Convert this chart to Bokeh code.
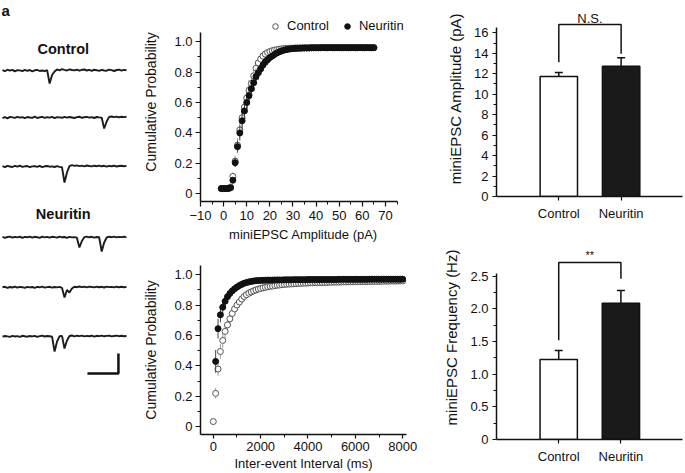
from bokeh.plotting import figure
from bokeh.layouts import row, column
from bokeh.models import (FixedTicker, Legend, LegendItem, Label, Whisker, TeeHead,
                          ColumnDataSource, Range1d)
from bokeh.embed import file_html
from bokeh.resources import INLINE

FONT = "Liberation Sans"
INK = "#111111"

# ---------------- data ----------------
# panel a: example traces (pA), sampled every 20 ms over 1 s
SAMPLE_MS = 20
ctrl_trace_1 = [0.4, -0.7, 0.8, -0.2, 0.6, -0.9, 0.3, 0.1, -0.6, 0.7,
                -0.3, 0.5, -0.8, 0.2, 0.6, -0.5, 0.0, -0.7, 0.3, -13.0,
                -4.5, -1.0, 1.1, 0.2, 1.3, 0.6, 0.0, 1.2, 0.5, 0.1,
                0.9, -0.2, 0.7, 1.0, 0.0, 0.6, -0.3, 0.8, 0.3, -0.4,
                0.7, 0.0, -0.2, 0.9, 0.4, -0.5, 0.5, 0.8, -0.1, 0.6,
                0.3]
ctrl_trace_2 = [-0.5, 0.3, -0.8, 0.6, 0.1, -0.4, 0.7, -0.2, 0.4, -0.6,
                0.5, 0.0, -0.3, 0.8, -0.5, 0.2, 0.6, -0.4, 0.3, -0.1,
                0.7, -0.6, 0.4, 0.1, -0.3, 0.6, -0.2, 0.5, 0.0, -0.5,
                0.4, 0.8, -0.3, 0.2, 0.6, -0.1, 0.3, -0.5, 0.5, 0.1,
                -0.2, -11.0, -4.0, 0.6, 1.0, 0.3, 0.9, 0.2, 0.7, 0.4,
                0.8]
ctrl_trace_3 = [0.3, -0.6, 0.7, 0.0, -0.5, 0.6, -0.2, 0.8, -0.4, 0.2,
                0.5, -0.7, 0.1, 0.4, -0.3, 0.6, -0.6, 0.2, 0.5, -0.2,
                0.1, -0.5, 0.3, -0.4, -0.8, -16.0, -6.0, 0.4, 1.3, 0.6,
                1.1, 0.4, 0.9, 0.2, 1.0, 0.5, 0.1, 0.8, 0.3, 0.9,
                0.2, 0.7, -0.1, 0.6, 0.3, 0.8, 0.0, 0.5, 0.7, 0.2,
                0.6]
neu_trace_1 = [0.6, -0.3, 0.5, 0.9, -0.2, 0.7, 0.1, 0.8, -0.4, 0.6,
               0.2, 0.9, -0.1, 0.7, 0.3, -0.3, 0.8, 0.1, 0.6, -0.2,
               0.7, 0.4, -0.1, 0.8, 0.2, 0.5, -0.3, 0.6, 0.1, 0.4,
               -0.2, -10.0, -3.5, 0.3, 0.9, 0.2, 0.7, -0.1, 0.5, 0.2,
               -14.0, -5.0, 0.0, 0.8, 0.3, 0.9, 0.1, 0.6, 0.4, 0.8,
               0.2]
neu_trace_2 = [0.2, 0.7, -0.3, 0.5, 0.0, 0.8, -0.2, 0.6, 0.3, -0.4,
               0.7, 0.1, 0.5, -0.3, 0.6, 0.2, 0.9, -0.1, 0.4, 0.7,
               -0.2, 0.5, 0.1, 0.6, -0.4, -10.0, -2.5, -5.0, -1.0, 0.8,
               0.3, 1.0, 0.4, 0.8, 0.1, 0.9, 0.5, 0.2, 0.8, 0.3,
               0.7, 0.0, 0.9, 0.4, 0.6, 0.1, 0.8, 0.3, 0.7, 0.2,
               0.6]
neu_trace_3 = [-0.2, 0.5, 0.1, -0.4, 0.6, 0.0, 0.4, -0.3, 0.7, 0.2,
               -0.2, 0.5, 0.1, 0.6, -0.3, 0.4, 0.8, 0.0, 0.5, 0.2,
               -0.3, -15.0, -5.0, 0.2, 0.6, -12.0, -4.0, 0.5, 1.0, 0.2,
               0.8, 0.4, 0.9, 0.1, 0.6, 0.3, 0.8, -0.1, 0.7, 0.4,
               0.9, 0.2, 0.6, 0.8, 0.1, 0.5, 0.9, 0.3, 0.7, 0.2,
               0.5]
scale_bar_ms = 250
scale_bar_pa = 20

# panel b (top): cumulative probability vs miniEPSC amplitude (pA)
amp_bins = list(range(-1, 66))
amp_ctrl = [0.035, 0.035, 0.035, 0.035, 0.045,
            0.115, 0.215, 0.32, 0.42, 0.50, 0.57, 0.63, 0.68, 0.725, 0.775,
            0.825, 0.86, 0.885, 0.905, 0.918, 0.928, 0.935, 0.94, 0.944, 0.947,
            0.95, 0.952, 0.954, 0.955, 0.956, 0.957, 0.957, 0.958, 0.958, 0.958,
            0.959, 0.959, 0.959, 0.959, 0.96, 0.96, 0.96, 0.96, 0.96, 0.96,
            0.96, 0.96, 0.96, 0.96, 0.96, 0.96, 0.96, 0.96, 0.96, 0.96,
            0.96, 0.96, 0.96, 0.96, 0.96, 0.96, 0.96, 0.96, 0.96, 0.96,
            0.96, 0.96]
amp_ctrl_err = [0.004, 0.004, 0.004, 0.004, 0.004,
                0.025, 0.035, 0.045, 0.055, 0.065, 0.07, 0.07, 0.068, 0.064, 0.058,
                0.05, 0.043, 0.036, 0.03, 0.025, 0.021, 0.018, 0.015, 0.013, 0.011,
                0.01, 0.009, 0.008, 0.007, 0.007, 0.006, 0.006, 0.005, 0.005, 0.005,
                0.005, 0.005, 0.005, 0.005, 0.005, 0.005, 0.005, 0.005, 0.005, 0.005,
                0.005, 0.005, 0.005, 0.005, 0.005, 0.005, 0.005, 0.005, 0.005, 0.005,
                0.005, 0.005, 0.005, 0.005, 0.005, 0.005, 0.005, 0.005, 0.005, 0.005,
                0.005, 0.005]
amp_neu = [0.035, 0.035, 0.035, 0.035, 0.04,
           0.09, 0.205, 0.31, 0.40, 0.48, 0.545, 0.60, 0.645, 0.69, 0.73,
           0.77, 0.795, 0.82, 0.845, 0.865, 0.88, 0.895, 0.905, 0.915, 0.925,
           0.932, 0.938, 0.943, 0.947, 0.95, 0.952, 0.954, 0.955, 0.956, 0.957,
           0.957, 0.958, 0.958, 0.958, 0.959, 0.959, 0.959, 0.959, 0.96, 0.96,
           0.96, 0.96, 0.96, 0.96, 0.96, 0.96, 0.96, 0.96, 0.96, 0.96,
           0.96, 0.96, 0.96, 0.96, 0.96, 0.96, 0.96, 0.96, 0.96, 0.96,
           0.96, 0.96]
amp_neu_err = [0.004, 0.004, 0.004, 0.004, 0.004,
               0.02, 0.03, 0.04, 0.05, 0.06, 0.065, 0.065, 0.062, 0.058, 0.054,
               0.05, 0.045, 0.04, 0.035, 0.03, 0.026, 0.022, 0.019, 0.016, 0.014,
               0.012, 0.011, 0.01, 0.009, 0.008, 0.007, 0.007, 0.006, 0.006, 0.005,
               0.005, 0.005, 0.005, 0.005, 0.005, 0.005, 0.005, 0.005, 0.005, 0.005,
               0.005, 0.005, 0.005, 0.005, 0.005, 0.005, 0.005, 0.005, 0.005, 0.005,
               0.005, 0.005, 0.005, 0.005, 0.005, 0.005, 0.005, 0.005, 0.005, 0.005,
               0.005, 0.005]
amp_xticks = [-10, 0, 10, 20, 30, 40, 50, 60, 70]
amp_xminor = [-5, 5, 15, 25, 35, 45, 55, 65, 75]

# panel b (bottom): cumulative probability vs inter-event interval (ms)
iei_bins = list(range(0, 8100, 100))
iei_ctrl = [0.035, 0.22, 0.38, 0.495, 0.568, 0.627, 0.67, 0.71, 0.745, 0.775,
            0.80, 0.82, 0.84, 0.856, 0.868, 0.878, 0.886, 0.893, 0.899, 0.905,
            0.909, 0.913, 0.917, 0.92, 0.923, 0.925, 0.928, 0.93, 0.932, 0.934,
            0.935, 0.937, 0.938, 0.939, 0.94, 0.941, 0.942, 0.943, 0.944, 0.944,
            0.945, 0.946, 0.946, 0.947, 0.947, 0.948, 0.948, 0.949, 0.949, 0.95,
            0.95, 0.951, 0.951, 0.951, 0.952, 0.952, 0.952, 0.953, 0.953, 0.953,
            0.954, 0.954, 0.954, 0.955, 0.955, 0.955, 0.955, 0.956, 0.956, 0.956,
            0.956, 0.957, 0.957, 0.957, 0.957, 0.958, 0.958, 0.958, 0.958, 0.959,
            0.959]
iei_ctrl_err = [0.008, 0.035, 0.045, 0.048, 0.047, 0.045, 0.043, 0.041, 0.039, 0.037,
                0.035, 0.033, 0.031, 0.029, 0.027, 0.026, 0.025, 0.024, 0.023, 0.022,
                0.021, 0.02, 0.019, 0.018, 0.017, 0.016, 0.015, 0.015, 0.014, 0.014,
                0.013, 0.013, 0.012, 0.012, 0.012, 0.011, 0.011, 0.011, 0.01, 0.01,
                0.01, 0.01, 0.009, 0.009, 0.009, 0.009, 0.009, 0.009, 0.009, 0.009,
                0.009, 0.009, 0.008, 0.008, 0.008, 0.008, 0.008, 0.008, 0.008, 0.008,
                0.008, 0.008, 0.008, 0.008, 0.008, 0.007, 0.007, 0.007, 0.007, 0.007,
                0.007, 0.007, 0.007, 0.007, 0.007, 0.007, 0.007, 0.007, 0.007, 0.007,
                0.006]
iei_neu = [0.43, 0.645, 0.736, 0.786, 0.825, 0.855, 0.876, 0.893, 0.907, 0.918,
           0.928, 0.936, 0.943, 0.948, 0.952, 0.955, 0.958, 0.96, 0.961, 0.962,
           0.963, 0.963, 0.964, 0.964, 0.964, 0.965, 0.965, 0.965, 0.965, 0.966,
           0.966, 0.966, 0.966, 0.967, 0.967, 0.967, 0.967, 0.967, 0.967, 0.968,
           0.968, 0.968, 0.968, 0.968, 0.968, 0.968, 0.968, 0.968, 0.968, 0.968,
           0.968, 0.968, 0.969, 0.969, 0.969, 0.969, 0.969, 0.969, 0.969, 0.969,
           0.969, 0.969, 0.969, 0.969, 0.969, 0.97, 0.97, 0.97, 0.97, 0.97,
           0.97, 0.97, 0.97, 0.97, 0.97, 0.97, 0.97, 0.97, 0.97, 0.97]
iei_neu_err = [0.075, 0.065, 0.05, 0.042, 0.035, 0.03, 0.026, 0.022, 0.019, 0.017,
               0.015, 0.013, 0.011, 0.01, 0.009, 0.008, 0.007, 0.007, 0.006, 0.006,
               0.005, 0.005, 0.005, 0.005, 0.005, 0.005, 0.005, 0.005, 0.005, 0.005,
               0.005, 0.005, 0.005, 0.005, 0.005, 0.005, 0.005, 0.005, 0.005, 0.005,
               0.005, 0.005, 0.005, 0.005, 0.005, 0.005, 0.005, 0.005, 0.005, 0.005,
               0.005, 0.005, 0.005, 0.005, 0.005, 0.005, 0.005, 0.005, 0.005, 0.005,
               0.005, 0.005, 0.005, 0.005, 0.005, 0.005, 0.005, 0.005, 0.005, 0.005,
               0.005, 0.005, 0.005, 0.005, 0.005, 0.005, 0.005, 0.005, 0.005, 0.005]
iei_xticks = [0, 2000, 4000, 6000, 8000]
iei_xminor = [1000, 3000, 5000, 7000]

prob_yticks = [0, 0.2, 0.4, 0.6, 0.8, 1.0]
prob_ylabels = ["0", "0.2", "0.4", "0.6", "0.8", "1.0"]
prob_yminor = [0.1, 0.3, 0.5, 0.7, 0.9]

# panel c: bar charts
groups = ["Control", "Neuritin"]
group_pos = [1, 2]
amp_mean = [11.73, 12.74]
amp_sem = [0.39, 0.82]
amp_bracket = [13.13, 16.81, 16.81, 13.95]
amp_sig = "N.S."
amp_yticks = [0, 2, 4, 6, 8, 10, 12, 14, 16]
amp_yminor = [1, 3, 5, 7, 9, 11, 13, 15]

freq_mean = [1.225, 2.087]
freq_sem = [0.138, 0.194]
freq_bracket = [1.52, 2.71, 2.71, 2.46]
freq_sig = "**"
freq_yticks = [0, 0.5, 1.0, 1.5, 2.0, 2.5]
freq_ylabels = ["0", "0.5", "1.0", "1.5", "2.0", "2.5"]
freq_yminor = [0.25, 0.75, 1.25, 1.75, 2.25]


# ---------------- helpers ----------------
def make_fig(w, h, xr, yr, bl, br, bt, bb, axes=True):
    kw = {}
    if not axes:
        kw = dict(x_axis_location=None, y_axis_location=None)
    p = figure(width=w, height=h, x_range=Range1d(*xr), y_range=Range1d(*yr),
               output_backend="svg", toolbar_location=None,
               min_border_left=bl, min_border_right=br,
               min_border_top=bt, min_border_bottom=bb, **kw)
    p.grid.visible = False
    p.outline_line_color = None
    p.background_fill_color = "white"
    p.border_fill_color = "white"
    return p


def style_axis(ax, tick_out=5, minor_out=3, label_size="13px", title_size="13px",
               standoff=3, title_standoff=10):
    ax.axis_line_color = INK
    ax.axis_line_width = 1.5
    ax.major_tick_line_color = INK
    ax.major_tick_line_width = 1.2
    ax.minor_tick_line_color = INK
    ax.minor_tick_line_width = 1
    ax.major_tick_in = 0
    ax.major_tick_out = tick_out
    ax.minor_tick_in = 0
    ax.minor_tick_out = minor_out
    ax.major_label_standoff = standoff
    ax.major_label_text_font = FONT
    ax.major_label_text_font_size = label_size
    ax.major_label_text_color = INK
    ax.axis_label_text_font = FONT
    ax.axis_label_text_font_size = title_size
    ax.axis_label_text_font_style = "normal"
    ax.axis_label_text_color = INK
    ax.axis_label_standoff = title_standoff


def panel_letter(p, text, x, y):
    p.add_layout(Label(x=x, y=y, x_units="screen", y_units="screen", text=text,
                       text_font=FONT, text_font_size="15px", text_font_style="bold",
                       text_color=INK, text_align="left", text_baseline="top"))


# ---------------- panel a ----------------
pa = make_fig(140, 473, (-16.1, 1112.9), (-473, 0), 0, 0, 0, 0, axes=False)
traces = [ctrl_trace_1, ctrl_trace_2, ctrl_trace_3, neu_trace_1, neu_trace_2, neu_trace_3]
trace_offsets = [-70, -117, -166, -237, -287, -336]
for vals, off in zip(traces, trace_offsets):
    t = [i * SAMPLE_MS for i in range(len(vals))]
    pa.line(t, [v + off for v in vals], line_color="#1c1c1c", line_width=1.9)
sb_x1, sb_y = 935, -373
pa.line([sb_x1 - scale_bar_ms, sb_x1, sb_x1], [sb_y, sb_y, sb_y + scale_bar_pa],
        line_color=INK, line_width=2.5)
for txt, yy in (("Control", -48), ("Neuritin", -213)):
    pa.add_layout(Label(x=490, y=yy, text=txt, text_font=FONT, text_font_size="14.5px",
                        text_font_style="bold", text_color=INK, text_align="center",
                        text_baseline="middle"))
pa.add_layout(Label(x=1, y=472, x_units="screen", y_units="screen", text="a",
                    text_font=FONT, text_font_size="15px", text_font_style="bold",
                    text_color=INK, text_align="left", text_baseline="top"))


# ---------------- panel b ----------------
def cum_panel(p, xb_c, yc, ec, xb_n, yn, en):
    sc = ColumnDataSource(dict(x=xb_c, y=yc, lo=[a - b for a, b in zip(yc, ec)],
                               hi=[a + b for a, b in zip(yc, ec)]))
    sn = ColumnDataSource(dict(x=xb_n, y=yn, lo=[a - b for a, b in zip(yn, en)],
                               hi=[a + b for a, b in zip(yn, en)]))
    p.segment(x0="x", y0="lo", x1="x", y1="hi", source=sc, line_color="#9a9a9a", line_width=1)
    rc = p.scatter("x", "y", source=sc, marker="circle", size=6, fill_color="white",
                   line_color="#555555", line_width=1)
    p.segment(x0="x", y0="lo", x1="x", y1="hi", source=sn, line_color="#444444", line_width=1)
    rn = p.scatter("x", "y", source=sn, marker="circle", size=6, fill_color=INK,
                   line_color=INK, line_width=1)
    return rc, rn


def prob_yaxis(p, title):
    ax = p.yaxis[0]
    style_axis(ax, tick_out=5, minor_out=3, title_size="14px", standoff=3, title_standoff=12)
    ax.ticker = FixedTicker(ticks=prob_yticks, minor_ticks=prob_yminor)
    ax.major_label_overrides = {t: l for t, l in zip(prob_yticks, prob_ylabels)}
    ax.bounds = (-0.05, 1.06)
    ax.axis_label = title


# frame widened to the right so the legend fits; the x axis line stops at 75
pbt = make_fig(300, 246, (-10, 79.1), (-0.05, 1.2566), 55, 24, 2, 45)
rc, rn = cum_panel(pbt, amp_bins, amp_ctrl, amp_ctrl_err, amp_bins, amp_neu, amp_neu_err)
prob_yaxis(pbt, "Cumulative Probability")
xa = pbt.xaxis[0]
style_axis(xa, tick_out=5, minor_out=3, standoff=4, title_standoff=4)
xa.ticker = FixedTicker(ticks=amp_xticks, minor_ticks=amp_xminor)
xa.bounds = (-10, 75)
xa.axis_label = "miniEPSC Amplitude (pA)"
leg = Legend(items=[LegendItem(label="Control", renderers=[rc]),
                    LegendItem(label="Neuritin", renderers=[rn])],
             location=(68, 168), orientation="horizontal", padding=0, margin=0,
             spacing=11, glyph_width=14, glyph_height=14, label_standoff=5,
             label_height=14, border_line_color=None, background_fill_alpha=0,
             label_text_font=FONT, label_text_font_size="13px", label_text_color=INK)
pbt.add_layout(leg)
panel_letter(pbt, "b", -54, 199)

pbb = make_fig(300, 227, (-540, 8160), (-0.05, 1.06), 55, 34, 19, 39)
cum_panel(pbb, iei_bins, iei_ctrl, iei_ctrl_err, iei_bins[1:], iei_neu, iei_neu_err)
prob_yaxis(pbb, "Cumulative Probability")
xb = pbb.xaxis[0]
style_axis(xb, tick_out=4, minor_out=3, standoff=3, title_standoff=2)
xb.ticker = FixedTicker(ticks=iei_xticks, minor_ticks=iei_xminor)
xb.axis_label = "Inter-event Interval (ms)"


# ---------------- panel c ----------------
def bar_panel(p, means, sems, bracket, sig, sig_y, sig_size, yticks, yminor, ylabels, ybound, ytitle):
    p.vbar(x=group_pos, top=means, width=0.6, bottom=0,
           fill_color=["white", "#1a1a1a"], line_color=INK, line_width=1.5)
    ws = ColumnDataSource(dict(base=group_pos, lower=means,
                               upper=[m + s for m, s in zip(means, sems)]))
    p.add_layout(Whisker(source=ws, base="base", lower="lower", upper="upper",
                         dimension="height", line_color=INK, line_width=1.5, level="overlay",
                         lower_head=None,
                         upper_head=TeeHead(size=8, line_color=INK, line_width=1.5)))
    p.line([group_pos[0], group_pos[0], group_pos[1], group_pos[1]], bracket,
           line_color=INK, line_width=1.5)
    p.add_layout(Label(x=(group_pos[0] + group_pos[1]) / 2, y=sig_y, text=sig,
                       text_font=FONT, text_font_size=sig_size, text_color=INK,
                       text_align="center", text_baseline="middle"))
    ya = p.yaxis[0]
    style_axis(ya, tick_out=4, minor_out=3, title_size="15px", standoff=4, title_standoff=7)
    ya.ticker = FixedTicker(ticks=yticks, minor_ticks=yminor)
    ya.major_label_overrides = {t: l for t, l in zip(yticks, ylabels)}
    ya.bounds = ybound
    ya.axis_label = ytitle
    xa = p.xaxis[0]
    style_axis(xa, tick_out=4, minor_out=0, standoff=5, title_standoff=0)
    xa.ticker = FixedTicker(ticks=group_pos, minor_ticks=[])
    xa.major_label_overrides = {g: n for g, n in zip(group_pos, groups)}


pct = make_fig(245, 235, (0, 2.985), (0, 19.16), 48, 3, 0, 39)
bar_panel(pct, amp_mean, amp_sem, amp_bracket, amp_sig, 17.37, "13px",
          amp_yticks, amp_yminor, [str(t) for t in amp_yticks], (0, 16.55),
          "miniEPSC Amplitude (pA)")
panel_letter(pct, "c", -47, 195)

pcb = make_fig(245, 238, (0, 2.99), (0, 3.123), 49, 3, 0, 34)
bar_panel(pcb, freq_mean, freq_sem, freq_bracket, freq_sig, 2.82, "11px",
          freq_yticks, freq_yminor, freq_ylabels, (0, 2.54),
          "miniEPSC Frequency (Hz)")

layout = row(pa, column(pbt, pbb), column(pct, pcb))
open("out.html", "w").write(file_html(layout, INLINE))
